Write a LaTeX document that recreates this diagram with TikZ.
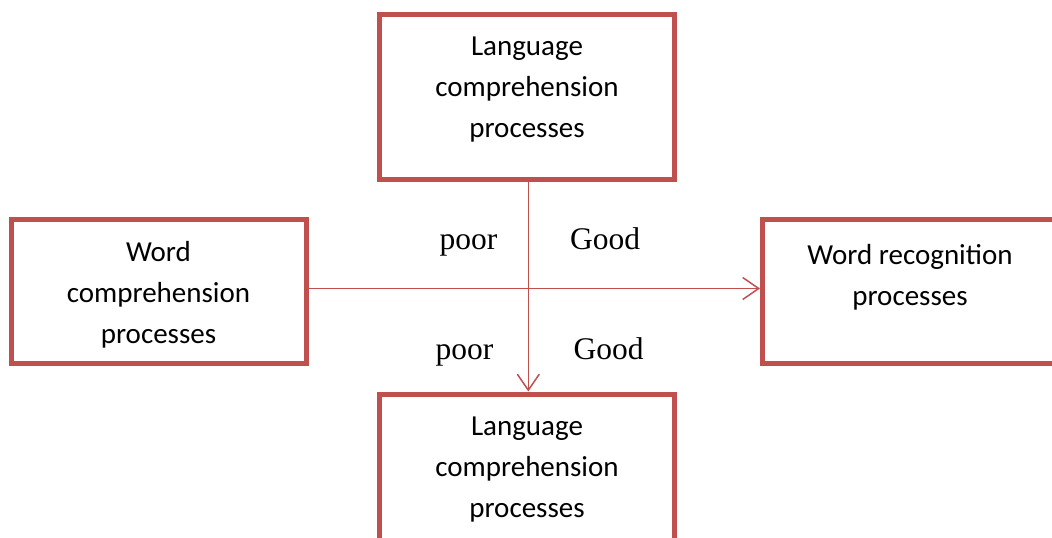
\documentclass[tikz,border=0pt]{standalone}
\usepackage{fontspec}
\setmainfont{Carlito}
\newfontfamily\labelfont{Liberation Serif}
\usetikzlibrary{arrows.meta}
\definecolor{boxred}{RGB}{192,80,77}
\tikzset{
  box/.style={draw=boxred, line width=5pt, rectangle, inner sep=0pt},
  boxtext/.style={align=center, inner sep=0pt, font=\fontsize{29}{41}\selectfont},
  lbl/.style={inner sep=0pt, anchor=base, font=\labelfont\fontsize{31.5}{36}\selectfont},
  conn/.style={draw=boxred, line width=1.5pt, -{Straight Barb[length=16pt,width=22pt,line width=1.5pt]}}
}
\begin{document}
\begin{tikzpicture}[x=1pt,y=-1pt]
\useasboundingbox (0,0) rectangle (1052,538);
\clip (0,0) rectangle (1052,538);
\node[box, minimum width=295pt, minimum height=165pt] (top) at (527,96.5) {};
\node[box, minimum width=295.5pt, minimum height=144pt] (left) at (158.75,291.5) {};
\node[box, minimum width=299.5pt, minimum height=144pt] (right) at (912.25,291.5) {};
\node[box, minimum width=295pt, minimum height=151pt] (bottom) at (527,469.5) {};
\node[boxtext] (ttop) at (527,90) {Language\\comprehension\\processes};
\node[boxtext] (tleft) at (158.5,295) {Word\\comprehension\\processes};
\node[boxtext] (tright) at (910,277) {Word recognition\\processes};
\node[boxtext] (tbottom) at (527,469.5) {Language\\comprehension\\processes};
\draw[conn] ([xshift=1.3pt]top.south) -- ([xshift=1.3pt]bottom.north);
\draw[conn] ([yshift=3pt]left.east) -- ([yshift=3pt]right.west);
\node[lbl] (p1) at (468.5,249) {poor};
\node[lbl] (g1) at (605,249) {Good};
\node[lbl] (p2) at (464.5,359) {poor};
\node[lbl] (g2) at (608.5,359) {Good};
\end{tikzpicture}
\end{document}
